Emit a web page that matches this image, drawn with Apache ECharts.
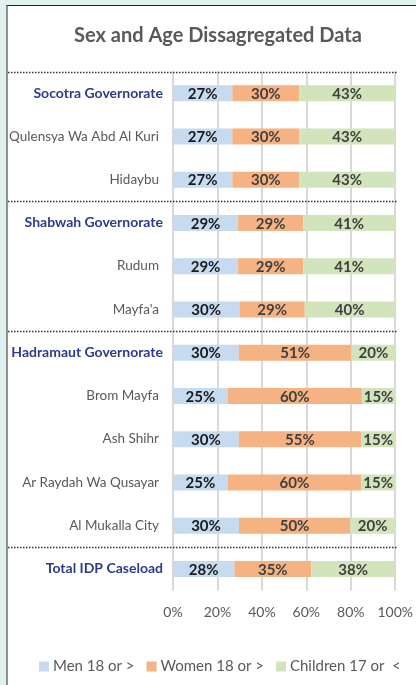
<!DOCTYPE html>
<html>
<head>
<meta charset="utf-8">
<script src="https://cdn.jsdelivr.net/npm/echarts@6/dist/echarts.min.js"></script>
<style>
  html, body { margin: 0; padding: 0; background: #dff2ef; }
  #panel {
    position: absolute; left: 6px; top: 5px; right: 0; bottom: 0;
    background: #fff; border-left: 2px solid #8c918f; border-top: 1px solid #1b2321;
  }
  #chart { position: absolute; left: 0; top: 0; width: 416px; height: 685px; }
</style>
</head>
<body>
<div id="panel"></div>
<div id="chart"></div>
<script>
// categories, top to bottom
const categories = [
  'Socotra Governorate', 'Qulensya Wa Abd Al Kuri', 'Hidaybu',
  'Shabwah Governorate', 'Rudum', "Mayfa'a",
  'Hadramaut Governorate', 'Brom Mayfa', 'Ash Shihr', 'Ar Raydah Wa Qusayar', 'Al Mukalla City',
  'Total IDP Caseload'
];
const headerRows = ['Socotra Governorate', 'Shabwah Governorate', 'Hadramaut Governorate', 'Total IDP Caseload'];
// rows after which a dotted separator is drawn (-1 = above first row)
const separatorAfter = [-1, 2, 5, 10];

const men      = [26.7, 26.7, 26.7, 29.3, 29.3, 29.9, 29.6, 24.6, 29.6, 24.6, 29.7, 27.6];
const women    = [30.1, 30.1, 30.1, 29.3, 29.3, 29.4, 50.7, 60.4, 55.0, 60.1, 50.0, 34.6];
const children = [43.2, 43.2, 43.2, 41.4, 41.4, 40.4, 19.7, 15.0, 15.4, 15.3, 20.3, 37.8];

const seriesNames = ['Men 18 or >', 'Women 18 or >', 'Children 17 or  <'];
const xTicks = [0, 20, 40, 60, 80, 100];

const FONT = 'Lato, "Open Sans", sans-serif';

const chart = echarts.init(document.getElementById('chart'), null, { renderer: 'canvas' });

function bar(name, data, color, labelColor) {
  return {
    name: name,
    type: 'bar',
    stack: 'total',
    barWidth: 16,
    data: data,
    itemStyle: { color: color },
    label: {
      show: true,
      position: 'inside',
      formatter: p => Math.round(p.value) + '%',
      color: labelColor,
      fontFamily: FONT,
      fontWeight: 'bold',
      fontSize: 15,
      offset: [0, 1]
    }
  };
}

chart.setOption({
  animation: false,
  title: {
    text: 'Sex and Age Dissagregated Data',
    left: 74,
    top: 26,
    padding: 0,
    textStyle: { fontFamily: FONT, fontSize: 20, fontWeight: 'bold', color: '#595959' }
  },
  grid: { left: 173, right: 20, top: 71.5, bottom: 94.5, containLabel: false },
  legend: {
    left: 39,
    top: 659,
    padding: 0,
    itemWidth: 10,
    itemHeight: 10,
    itemGap: 12,
    icon: 'rect',
    textStyle: { fontFamily: FONT, fontSize: 15, color: '#595959', padding: [0, 0, 0, -1] },
    data: seriesNames
  },
  xAxis: {
    type: 'value',
    min: 0,
    max: xTicks[xTicks.length - 1],
    interval: xTicks[1] - xTicks[0],
    axisLine: { show: false },
    axisTick: { show: false },
    splitLine: { show: true, lineStyle: { color: '#d9d9d9', width: 2 } },
    axisLabel: {
      formatter: v => v + '%',
      color: '#595959',
      fontFamily: FONT,
      fontSize: 14,
      margin: 15
    }
  },
  yAxis: {
    type: 'category',
    inverse: true,
    data: categories,
    axisLine: { show: false },
    axisTick: { show: false },
    axisLabel: {
      margin: 10,
      formatter: v => headerRows.includes(v) ? '{h|' + v + '}' : '{n|' + v + '}',
      rich: {
        h: { fontFamily: FONT, fontSize: 14, fontWeight: 'bold', color: '#2e3a8c' },
        n: { fontFamily: FONT, fontSize: 13.5, color: '#595959', padding: [0, 4, 0, 0] }
      }
    }
  },
  series: [
    bar(seriesNames[0], men, '#c6daf0', '#1a1a1a'),
    bar(seriesNames[1], women, '#f5b282', '#404040'),
    bar(seriesNames[2], children, '#d2e4bb', '#404040')
  ]
});

// dotted separators at category boundaries, positioned from the axis scale
const centers = categories.map(c => chart.convertToPixel({ yAxisIndex: 0 }, c));
const band = centers[1] - centers[0];
chart.setOption({
  graphic: separatorAfter.map(i => {
    const y = Math.round(centers[i < 0 ? 0 : i] + (i < 0 ? -band / 2 : band / 2)) + 0.5;
    return {
      type: 'line',
      silent: true,
      z: 10,
      shape: { x1: 8, y1: y, x2: 398, y2: y },
      style: { stroke: '#333', lineWidth: 1.5, lineDash: [1.5, 1.5] }
    };
  })
});
</script>
</body>
</html>
